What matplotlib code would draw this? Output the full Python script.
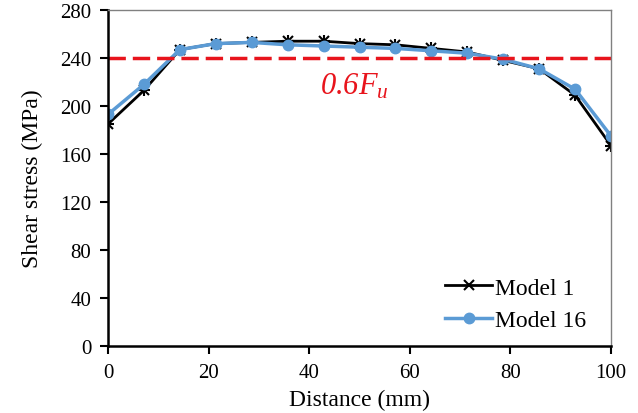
import numpy as np
import matplotlib.pyplot as plt

plt.rcParams['font.family'] = ['Liberation Serif', 'DejaVu Serif']
plt.rcParams['mathtext.fontset'] = 'custom'
plt.rcParams['mathtext.rm'] = 'Liberation Serif:italic'
plt.rcParams['mathtext.it'] = 'Liberation Serif:italic'

# data
distance = [0, 7.14, 14.29, 21.43, 28.57, 35.71, 42.86, 50, 57.14, 64.29, 71.43, 78.57, 85.71, 92.86, 100]
model1 = [185, 213, 247, 252, 253, 254, 254, 252, 251, 248, 245, 238, 231, 209, 167]
model16 = [193, 218, 247, 252, 253, 251, 250, 249, 248, 246, 244, 239, 231, 214, 175]
fu_line = 240
xticks = [0, 20, 40, 60, 80, 100]
yticks = [0, 40, 80, 120, 160, 200, 240, 280]

fig = plt.figure(figsize=(6.38, 4.14), dpi=100)
ax = fig.add_axes([108 / 638, 1 - 347 / 414, 503 / 638, 336 / 414])

ax.plot(distance, model1, color='black', lw=2, marker='x', ms=7, mew=1.5, label='Model 1')
ax.plot(distance, model1, color='black', lw=0, marker='+', ms=8, mew=1.5)
ax.plot(distance, model16, color='#5b9bd5', lw=2.5, marker='o', ms=7.5, label='Model 16')
ax.axhline(fu_line, color='#e8141c', lw=2.5, ls=(0, (5, 2)))
ax.text(49, 217, r'$0.6F_u$', color='#e8141c', fontsize=22, ha='center', va='center')

ax.set_xlim(0, 100)
ax.set_ylim(0, 280)
ax.set_xticks(xticks)
ax.set_yticks(yticks)
ax.tick_params(direction='out', length=6, width=1.5, labelsize=15, colors='black', pad=6)
for s in ['left', 'bottom']:
    ax.spines[s].set_linewidth(1.8)
for s in ['top', 'right']:
    ax.spines[s].set_color('#808080')
    ax.spines[s].set_linewidth(1)
ax.set_xlabel('Distance (mm)', fontsize=17, labelpad=5)
ax.set_ylabel('Shear stress (MPa)', fontsize=17, labelpad=12)

h, l = ax.get_legend_handles_labels()
ax.legend(h, l, loc='lower right', bbox_to_anchor=(0.95, 0.045), frameon=False,
          fontsize=17, handlelength=2, handletextpad=0.1, labelspacing=0.45,
          borderaxespad=0, borderpad=0)

fig.savefig('out.png', dpi=100)
